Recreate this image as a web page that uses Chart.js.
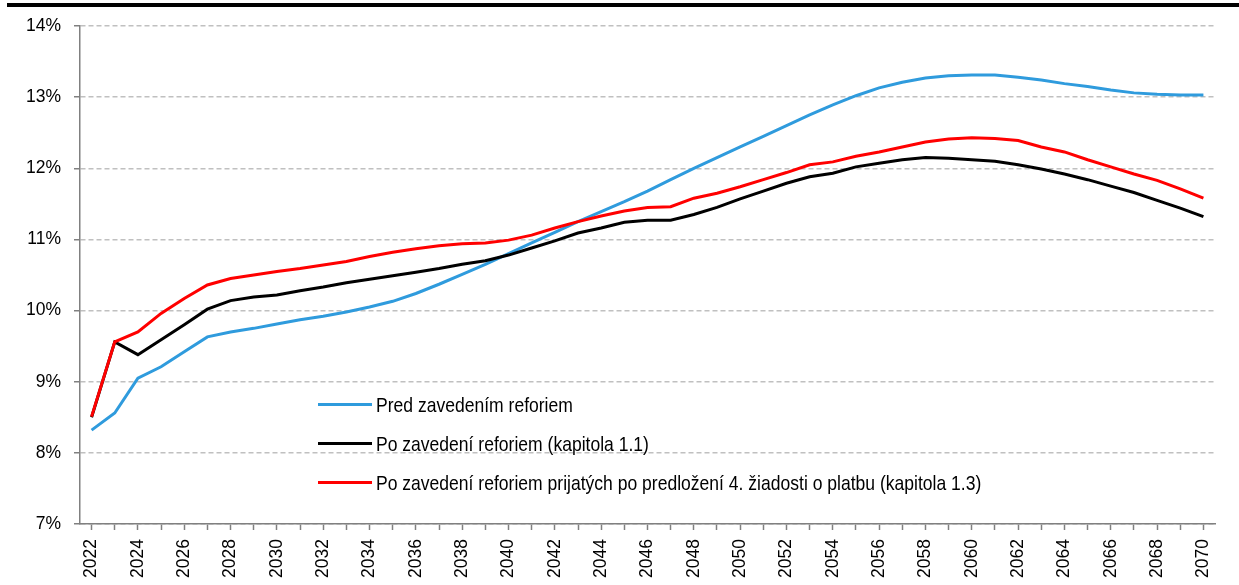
<!DOCTYPE html>
<html lang="sk">
<head>
<meta charset="utf-8">
<script src="https://cdn.jsdelivr.net/npm/chart.js@4.4.1/dist/chart.umd.min.js"></script>
<style>
  body { margin: 0; background: #fff; }
  #obal { position: relative; width: 1239px; height: 585px; }
  #ciara { position: absolute; left: 7px; right: 0; top: 3px; height: 4px; background: #000; }
  #legenda { position: absolute; left: 318px; top: 385px; font: 21px 'Liberation Sans', Arial, sans-serif; color: #000; }
  .polozka { display: flex; align-items: center; height: 39px; white-space: nowrap; }
  .znacka { width: 54px; height: 3px; margin-right: 4px; flex: none; }
  .text { display: inline-block; transform: scaleX(0.835); transform-origin: left center; }
</style>
</head>
<body>
<div id="obal">
  <canvas id="graf" width="1239" height="585"></canvas>
  <div id="ciara"></div>
  <div id="legenda"></div>
</div>
<script>
const roky = [];
for (let r = 2022; r <= 2070; r++) roky.push(String(r));

const nazvy = [
  'Pred zavedením reforiem',
  'Po zavedení reforiem (kapitola 1.1)',
  'Po zavedení reforiem prijatých po predložení 4. žiadosti o platbu (kapitola 1.3)'
];
const farby = ['#2f9bdd', '#000000', '#ff0000'];

// % HDP
const predReformami = [8.32, 8.56, 9.05, 9.21, 9.42, 9.63, 9.70, 9.75, 9.81, 9.87,
  9.92, 9.98, 10.05, 10.13, 10.24, 10.37, 10.51, 10.65, 10.80, 10.95,
  11.10, 11.25, 11.39, 11.53, 11.68, 11.84, 12.00, 12.15, 12.30, 12.45,
  12.60, 12.75, 12.89, 13.02, 13.13, 13.21, 13.27, 13.30, 13.31, 13.31,
  13.28, 13.24, 13.19, 13.15, 13.10, 13.06, 13.04, 13.03, 13.03];

const poReformach = [8.50, 9.56, 9.38, 9.59, 9.80, 10.02, 10.14, 10.19, 10.22, 10.28,
  10.33, 10.39, 10.44, 10.49, 10.54, 10.59, 10.65, 10.70, 10.78, 10.88,
  10.98, 11.09, 11.16, 11.24, 11.27, 11.27, 11.35, 11.45, 11.57, 11.68,
  11.79, 11.88, 11.93, 12.02, 12.07, 12.12, 12.15, 12.14, 12.12, 12.10,
  12.05, 11.99, 11.92, 11.84, 11.75, 11.66, 11.55, 11.44, 11.32];

const poReformachPrijatych = [8.51, 9.56, 9.70, 9.96, 10.17, 10.36, 10.45, 10.50, 10.55, 10.59,
  10.64, 10.69, 10.76, 10.82, 10.87, 10.91, 10.94, 10.95, 10.99, 11.06,
  11.16, 11.25, 11.33, 11.40, 11.45, 11.46, 11.58, 11.65, 11.74, 11.84,
  11.94, 12.05, 12.09, 12.17, 12.23, 12.30, 12.37, 12.41, 12.43, 12.42,
  12.39, 12.30, 12.23, 12.12, 12.02, 11.92, 11.83, 11.71, 11.58];

const rady = [predReformami, poReformach, poReformachPrijatych];

Chart.defaults.font.family = "'Liberation Sans', Arial, sans-serif";
Chart.defaults.font.size = 17.5;
Chart.defaults.color = '#000';

const graf = new Chart(document.getElementById('graf'), {
  type: 'line',
  data: {
    labels: roky,
    datasets: rady.map((hodnoty, i) => ({
      label: nazvy[i],
      data: hodnoty,
      borderColor: farby[i],
      backgroundColor: farby[i],
      borderWidth: 3,
      pointRadius: 0,
      tension: 0,
      order: 2 - i
    }))
  },
  options: {
    responsive: false,
    animation: false,
    devicePixelRatio: 1,
    layout: { padding: { top: 26, right: 24, left: 0, bottom: 0 } },
    plugins: { legend: { display: false }, tooltip: { enabled: false } },
    scales: {
      x: {
        offset: true,
        grid: { drawOnChartArea: false, tickLength: 6, tickColor: '#808080', tickWidth: 1.5 },
        border: { color: '#808080', width: 1.5 },
        ticks: {
          autoSkip: false,
          minRotation: 90,
          maxRotation: 90,
          padding: 9,
          callback: (v, idx) => idx % 2 === 0 ? roky[idx] : ''
        },
        afterFit: s => { s.height = 61; }
      },
      y: {
        min: 7,
        max: 14,
        ticks: { stepSize: 1, padding: 13, callback: v => v + '%' },
        grid: { color: '#c0c0c0', lineWidth: 1.5, tickLength: 6, tickColor: '#808080', tickWidth: 1.5, tickBorderDash: [] },
        border: { color: '#808080', width: 1.5, dash: [5, 3] },
        afterFit: s => { s.width = 80; }
      }
    }
  }
});

// legenda vnútri grafu
const legenda = document.getElementById('legenda');
nazvy.forEach((nazov, i) => {
  const p = document.createElement('div');
  p.className = 'polozka';
  p.innerHTML = '<span class="znacka" style="background:' + farby[i] + '"></span><span class="text">' + nazov + '</span>';
  legenda.appendChild(p);
});
</script>
</body>
</html>
